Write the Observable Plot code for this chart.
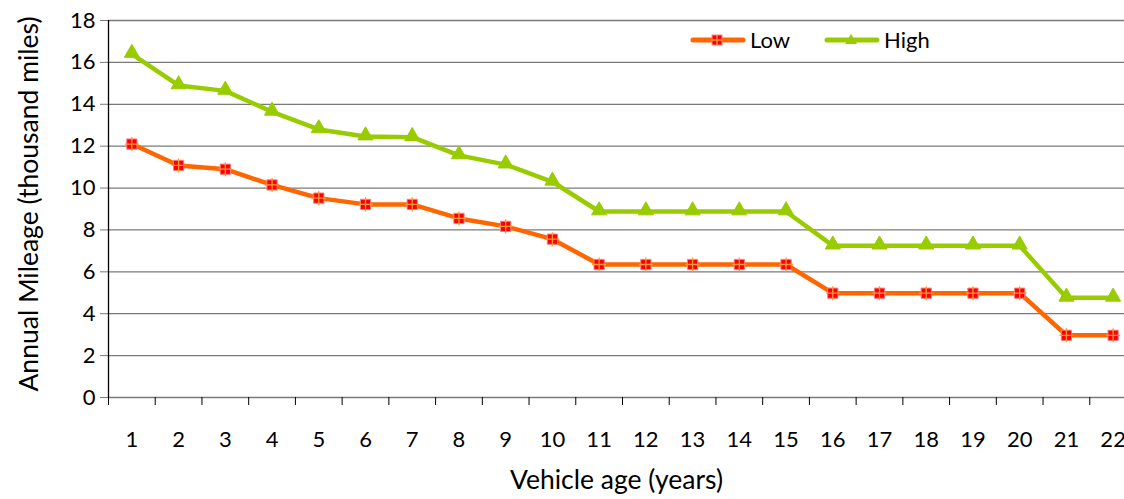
<!DOCTYPE html>
<html>
<head>
<meta charset="utf-8">
<script src="https://cdn.jsdelivr.net/npm/d3@7"></script>
<script src="https://cdn.jsdelivr.net/npm/@observablehq/plot@0.6"></script>
<style>
  html, body { margin: 0; padding: 0; background: white; }
  #wrap { position: relative; width: 1124px; height: 499px; font-family: Lato, "Open Sans", sans-serif; }
  #legend { position: absolute; top: 26px; left: 690px; display: flex; align-items: center; font-size: 22px; color: #000; }
  #legend .item { display: flex; align-items: center; margin-right: 34px; }
  #legend svg { display: block; margin-right: 4px; }
</style>
</head>
<body>
<div id="wrap"></div>
<script>
const ages = [1, 2, 3, 4, 5, 6, 7, 8, 9, 10, 11, 12, 13, 14, 15, 16, 17, 18, 19, 20, 21, 22];
const low  = [12.1, 11.08, 10.9, 10.15, 9.52, 9.22, 9.22, 8.55, 8.17, 7.56, 6.35, 6.35, 6.35, 6.35, 6.35, 4.98, 4.98, 4.98, 4.98, 4.98, 2.97, 2.97];
const high = [16.4, 14.9, 14.64, 13.64, 12.8, 12.46, 12.43, 11.56, 11.12, 10.3, 8.88, 8.88, 8.88, 8.88, 8.88, 7.25, 7.25, 7.25, 7.25, 7.25, 4.76, 4.76];
const yTicks = [0, 2, 4, 6, 8, 10, 12, 14, 16, 18];
const seriesNames = ["Low", "High"];
const colors = { Low: "#FF6600", High: "#99CC00" };

const lowData = ages.map((a, i) => ({ age: a, value: low[i] }));
const highData = ages.map((a, i) => ({ age: a, value: high[i] }));
const boundaries = ages.map(a => a - 0.5);

const chart = Plot.plot({
  width: 1124,
  height: 499,
  marginLeft: 108,
  marginTop: 20,
  marginBottom: 102,
  marginRight: 0,
  style: { fontFamily: "Lato, 'Open Sans', sans-serif", background: "white", color: "#000" },
  x: { type: "linear", domain: [0.5, 22.5], range: [108, 1136], axis: null },
  y: { domain: [0, 18], range: [397, 20], axis: null },
  marks: [
    Plot.ruleY(yTicks, { stroke: "#7a7a7a", strokeWidth: 1.3 }),
    Plot.axisY(yTicks, { tickSize: 8, tickPadding: 5, fontSize: 22, stroke: "#7a7a7a", tickFormat: d => d, label: null }),
    Plot.ruleX([0.5], { y1: 0, y2: 18, stroke: "#000", strokeWidth: 1.3 }),
    Plot.axisX(boundaries, { tickSize: 8, tickFormat: () => "", stroke: "#000", label: null }),
    Plot.axisX(ages, { tickSize: 0, tickPadding: 34, fontSize: 22, tickFormat: d => d, label: null }),
    Plot.text(["Vehicle age (years)"], { frameAnchor: "bottom", dy: 83, fontSize: 26.5, lineAnchor: "middle", textAnchor: "middle" }),
    Plot.text(["Annual Mileage (thousand miles)"], { frameAnchor: "left", dx: -79, dy: -5, rotate: -90, fontSize: 26.5, lineAnchor: "middle", textAnchor: "middle" }),
    Plot.line(lowData, { x: "age", y: "value", stroke: colors.Low, strokeWidth: 4.5 }),
    Plot.line(highData, { x: "age", y: "value", stroke: colors.High, strokeWidth: 4.5 }),
    Plot.dot(lowData, { x: "age", y: "value", symbol: "square", r: 5.8, fill: "#FF0000", stroke: "#FF8080", strokeWidth: 1 }),
    Plot.dot(lowData, { x: "age", y: "value", symbol: "plus", r: 4.6, stroke: "#FF9933", strokeWidth: 1.3 }),
    Plot.dot(highData, { x: "age", y: "value", symbol: "triangle", r: 5.6, fill: colors.High, stroke: colors.High, strokeWidth: 1, dy: -1 })
  ]
});

const wrap = document.getElementById("wrap");
wrap.appendChild(chart);

const legend = document.createElement("div");
legend.id = "legend";
seriesNames.forEach(name => {
  const item = document.createElement("div");
  item.className = "item";
  const marker = name === "Low"
    ? `<rect x="22" y="7" width="10" height="10" fill="#FF0000" stroke="#FF8080"/><path d="M27 7V17M22 12H32" stroke="#FF9933" stroke-width="1.3"/>`
    : `<path d="M27 6L33 16H21Z" fill="#99CC00"/>`;
  item.innerHTML = `<svg width="56" height="24"><line x1="3" y1="12" x2="53" y2="12" stroke="${colors[name]}" stroke-width="5" stroke-linecap="round"/>${marker}</svg><span>${name}</span>`;
  legend.appendChild(item);
});
wrap.appendChild(legend);
</script>
</body>
</html>
